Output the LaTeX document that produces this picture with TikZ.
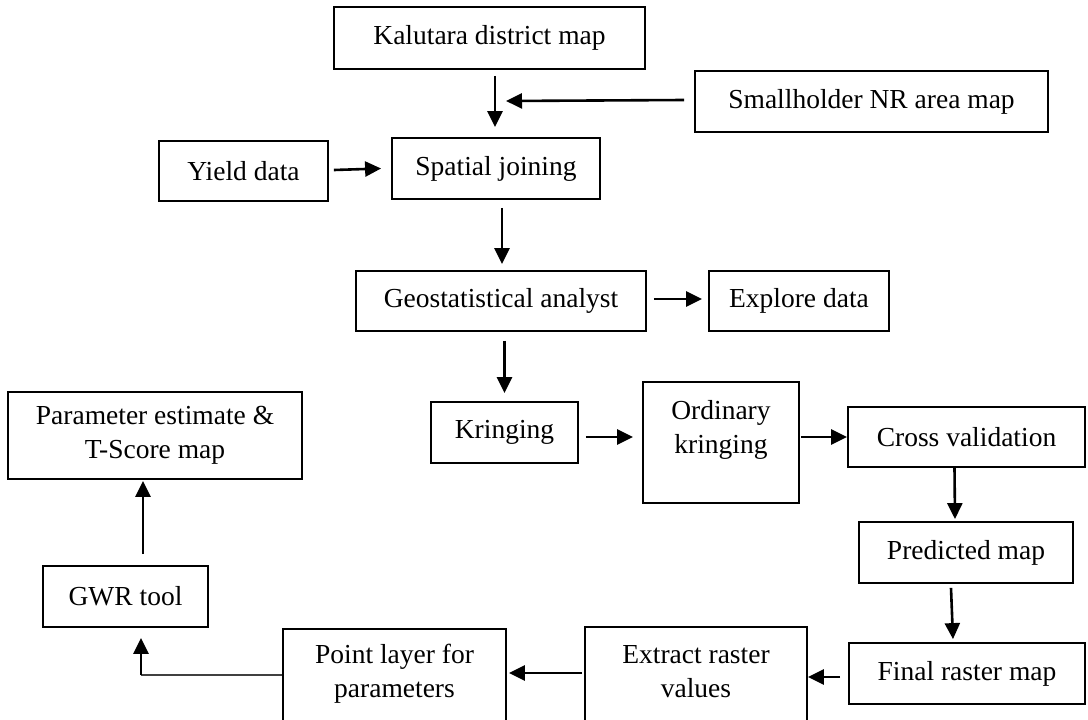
\documentclass[tikz,border=0pt]{standalone}
\usepackage{fontspec}
\setmainfont{Liberation Serif}
\usetikzlibrary{calc,arrows.meta}
\begin{document}
\begin{tikzpicture}[x=1pt,y=-1pt,
  box/.style={draw, line width=1.8pt, inner sep=0pt, align=center, font=\fontsize{27.5}{34}\selectfont},
  txt/.style={inner sep=0pt, align=center, font=\fontsize{27.5}{34}\selectfont},
  arr/.style={line width=2.6pt, -{Triangle[length=16pt,width=15pt]}},
  thinline/.style={line width=1.2pt, draw=black!75}]
\useasboundingbox (0,0) rectangle (1088,720);
\clip (0,0) rectangle (1088,720);
% nodes
\node[box, minimum width=311pt, minimum height=62pt] (kal) at (489.5,38) {Kalutara district map};
\node[box, minimum width=353pt, minimum height=61pt] (small) at (871.5,101.5) {Smallholder NR area map};
\node[box, minimum width=208pt, minimum height=61pt] (spat) at (496,168.5) {Spatial joining};
\node[box, minimum width=169pt, minimum height=60pt] (yield) at (243.5,171) {Yield data};
\node[box, minimum width=290pt, minimum height=60pt] (geo) at (501,301) {Geostatistical analyst};
\node[box, minimum width=180pt, minimum height=60pt] (expl) at (799,301) {Explore data};
\node[box, minimum width=147pt, minimum height=61pt] (krin) at (504.5,432.5) {Kringing};
\node[box, minimum width=156pt, minimum height=121pt] (ord) at (721,442.5) {};
\node[txt] (ordt) at ($(ord.north)+(0,48.5)$) {Ordinary\\kringing};
\node[box, minimum width=237pt, minimum height=60pt] (cross) at (966.5,437) {Cross validation};
\node[box, minimum width=214pt, minimum height=61pt] (pred) at (966,552.5) {Predicted map};
\node[box, minimum width=236pt, minimum height=61pt] (final) at (967,673.5) {Final raster map};
\node[box, minimum width=222pt, minimum height=133pt] (extr) at (696,693.5) {};
\node[txt] (extrt) at ($(extr.north)+(0,46)$) {Extract raster\\values};
\node[box, minimum width=223pt, minimum height=131pt] (point) at (394.5,694.5) {};
\node[txt] (pointt) at ($(point.north)+(0,46)$) {Point layer for\\parameters};
\node[box, minimum width=165pt, minimum height=61pt] (gwr) at (125.5,596.5) {GWR tool};
\node[box, minimum width=294pt, minimum height=87pt] (param) at (155,435.5) {Parameter estimate \&\\T-Score map};
% connectors
\coordinate (join) at (506,101);
\coordinate (bend) at (141,675);
\draw[arr] ($(kal.south)+(5.5,6)$) -- ($(spat.north)+(-1,-10)$);
\draw[arr] ($(small.west)+(-10,-1.5)$) -- (join);
\draw[arr] ($(yield.east)+(5,-1)$) -- ($(spat.west)+(-10,0)$);
\draw[arr] ($(spat.south)+(6,8)$) -- ($(geo.north)+(1,-6)$);
\draw[arr] ($(geo.east)+(7,-2)$) -- ($(expl.west)+(-6,-2)$);
\draw[arr] ($(krin.north |- geo.south)+(0,9)$) -- ($(krin.north)+(0,-8)$);
\draw[arr] ($(krin.east |- cross.west)+(7,0)$) -- ($(ord.west |- cross.west)+(-9,0)$);
\draw[arr] ($(ord.east |- cross.west)+(1,0)$) -- (cross.west);
\draw[arr] ($(cross.south)+(-12,0)$) -- ($(pred.north)+(-11,-2)$);
\draw[arr] ($(pred.south)+(-15,4)$) -- ($(final.north)+(-14,-3)$);
\draw[arr] ($(final.west)+(-8,3.5)$) -- ($(final.west -| extr.east)+(0,3.5)$);
\draw[arr] ($(extr.west |- final.west)+(-2,-0.5)$) -- ($(point.east |- final.west)+(2,-0.5)$);
\draw[thinline] (point.west |- bend) -- (bend);
\draw[arr] (bend) -- ($(gwr.south)+(15.5,10)$);
\draw[arr] ($(gwr.north)+(17.5,-11)$) -- ($(param.south)+(-12,1)$);
\end{tikzpicture}
\end{document}
